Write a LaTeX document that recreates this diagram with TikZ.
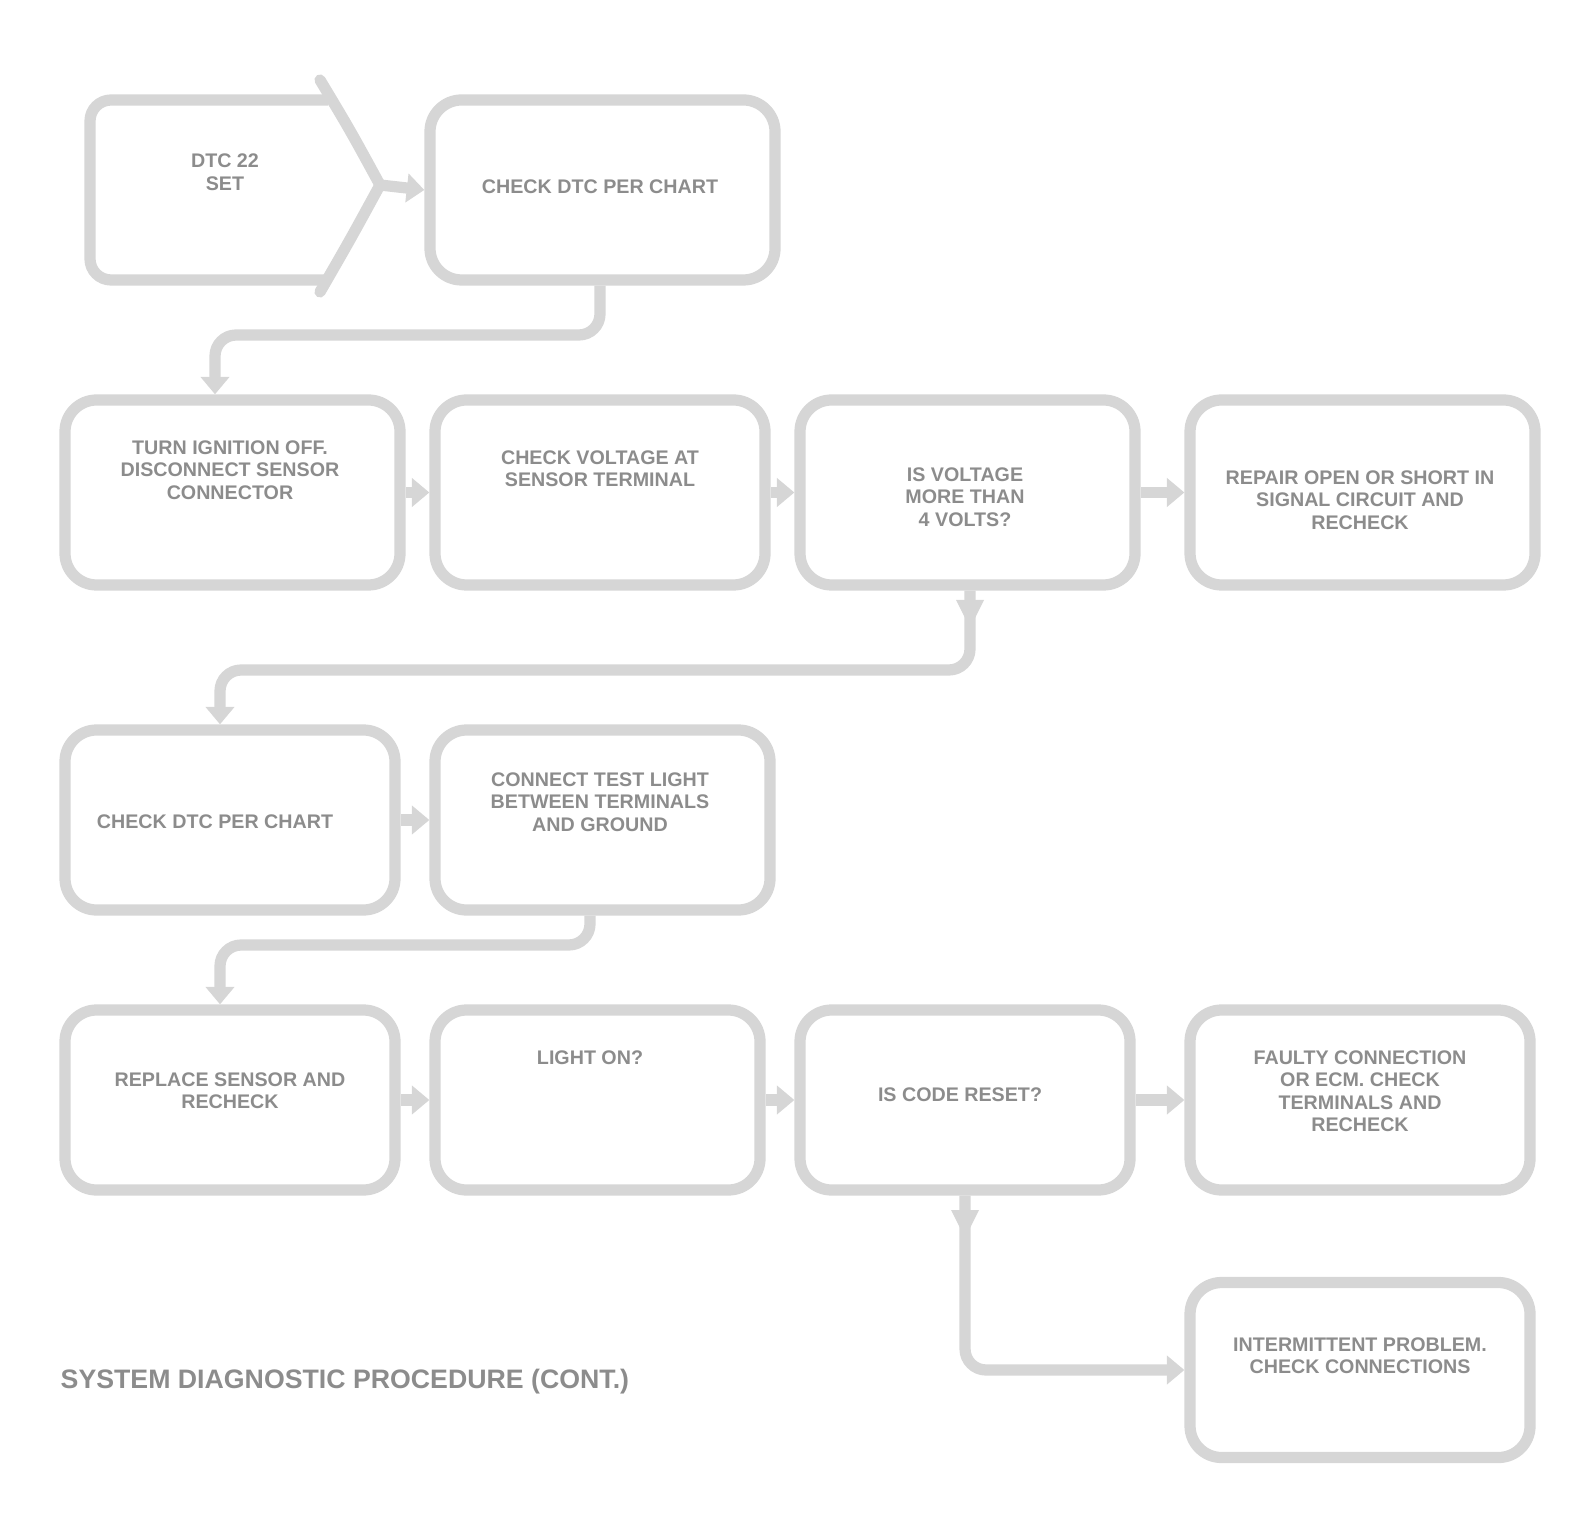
\documentclass[tikz,border=0pt]{standalone}
\usepackage{fontspec}
\setmainfont{Liberation Sans}
\usetikzlibrary{arrows.meta}
\definecolor{ln}{gray}{0.84}
\definecolor{tx}{gray}{0.55}
\begin{document}
\begin{tikzpicture}[
  line/.style={draw=ln, line width=3.2pt, rounded corners=6pt},
  box/.style={line, rectangle, rounded corners=9pt, inner sep=0pt},
  conn/.style={draw=ln, line width=3.2pt, -{Triangle[width=8pt,length=5pt]}},
  lbl/.style={text=tx, font=\fontsize{5.6}{6.4}\selectfont\bfseries, align=center},
]
\useasboundingbox (0,0) rectangle (15.86,-15.37);
% start shape
\coordinate (sA) at (3.8,-1.85);
\draw[line] (3.28,-1.0) -- (0.9,-1.0) -- (0.9,-2.8) -- (3.28,-2.8);
\draw[draw=ln, line width=3.2pt, line cap=round] (3.2,-0.8) .. controls (3.5,-1.3) .. (sA) .. controls (3.5,-2.4) .. (3.2,-2.92);
\node[lbl] (st) at (2.25,-1.72) {DTC 22\\SET};
% row 0
\node[box, minimum width=3.45cm, minimum height=1.8cm] (a2) at (6.025,-1.9) {};
\node[lbl] (ta2) at (6.0,-1.87) {CHECK DTC PER CHART};
% row 1
\node[box, minimum width=3.35cm, minimum height=1.85cm] (b1) at (2.325,-4.925) {};
\node[box, minimum width=3.30cm, minimum height=1.85cm] (b2) at (6.0,-4.925) {};
\node[box, minimum width=3.35cm, minimum height=1.85cm] (b3) at (9.675,-4.925) {};
\node[box, minimum width=3.45cm, minimum height=1.85cm] (b4) at (13.625,-4.925) {};
\node[lbl, anchor=north] (tb1) at (2.3,-4.28) {TURN IGNITION OFF.\\DISCONNECT SENSOR\\CONNECTOR};
\node[lbl, anchor=north] (tb2) at (6.0,-4.38) {CHECK VOLTAGE AT\\SENSOR TERMINAL};
\node[lbl, anchor=north] (tb3) at (9.65,-4.55) {IS VOLTAGE\\MORE THAN\\4 VOLTS?};
\node[lbl, anchor=north] (tb4) at (13.6,-4.58) {REPAIR OPEN OR SHORT IN\\SIGNAL CIRCUIT AND\\RECHECK};
% row 2
\node[box, minimum width=3.30cm, minimum height=1.8cm] (c1) at (2.3,-8.2) {};
\node[box, minimum width=3.35cm, minimum height=1.8cm] (c2) at (6.025,-8.2) {};
\node[lbl] (tc1) at (2.15,-8.22) {CHECK DTC PER CHART};
\node[lbl, anchor=north] (tc2) at (6.0,-7.6) {CONNECT TEST LIGHT\\BETWEEN TERMINALS\\AND GROUND};
% row 3
\node[box, minimum width=3.30cm, minimum height=1.8cm] (d1) at (2.3,-11.0) {};
\node[box, minimum width=3.25cm, minimum height=1.8cm] (d2) at (5.975,-11.0) {};
\node[box, minimum width=3.30cm, minimum height=1.8cm] (d3) at (9.65,-11.0) {};
\node[box, minimum width=3.40cm, minimum height=1.8cm] (d4) at (13.6,-11.0) {};
\node[lbl, anchor=north] (td1) at (2.3,-10.6) {REPLACE SENSOR AND\\RECHECK};
\node[lbl, anchor=north] (td2) at (5.9,-10.38) {LIGHT ON?};
\node[lbl, anchor=north] (td3) at (9.6,-10.75) {IS CODE RESET?};
\node[lbl, anchor=north] (td4) at (13.6,-10.38) {FAULTY CONNECTION\\OR ECM. CHECK\\TERMINALS AND\\RECHECK};
% row 4
\node[box, minimum width=3.40cm, minimum height=1.75cm] (e1) at (13.6,-13.7) {};
\node[lbl, anchor=north] (te1) at (13.6,-13.25) {INTERMITTENT PROBLEM.\\CHECK CONNECTIONS};
% footer
\node[text=tx, font=\fontsize{7.6}{9}\selectfont\bfseries, anchor=west, inner sep=0pt] (ft) at (0.6,-13.82) {SYSTEM DIAGNOSTIC PROCEDURE (CONT.)};
% connectors
\draw[conn] (sA) -- (a2.west);
\draw[conn, rounded corners=6pt] (a2.south -| 6.0,0) -- (6.0,-3.35) -- (2.15,-3.35) -- (b1.north -| 2.15,0);
\draw[conn] (b1) -- (b2);
\draw[conn] (b2) -- (b3);
\draw[conn] (b3) -- (b4);
\draw[conn, rounded corners=6pt] (b3.south -| 9.7,0) -- (9.7,-6.7) -- (2.2,-6.7) -- (c1.north -| 2.2,0);
\fill[ln] (9.56,-6.0) -- (9.84,-6.0) -- (9.7,-6.28) -- cycle;
\draw[conn] (c1) -- (c2);
\draw[conn, rounded corners=6pt] (c2.south -| 5.9,0) -- (5.9,-9.45) -- (2.2,-9.45) -- (d1.north -| 2.2,0);
\draw[conn] (d1) -- (d2);
\draw[conn] (d2) -- (d3);
\draw[conn] (d3) -- (d4);
\draw[conn, rounded corners=6pt] (d3.south -| 9.65,0) -- (9.65,-13.7) -- (e1.west);
\fill[ln] (9.51,-12.1) -- (9.79,-12.1) -- (9.65,-12.38) -- cycle;
\end{tikzpicture}
\end{document}
